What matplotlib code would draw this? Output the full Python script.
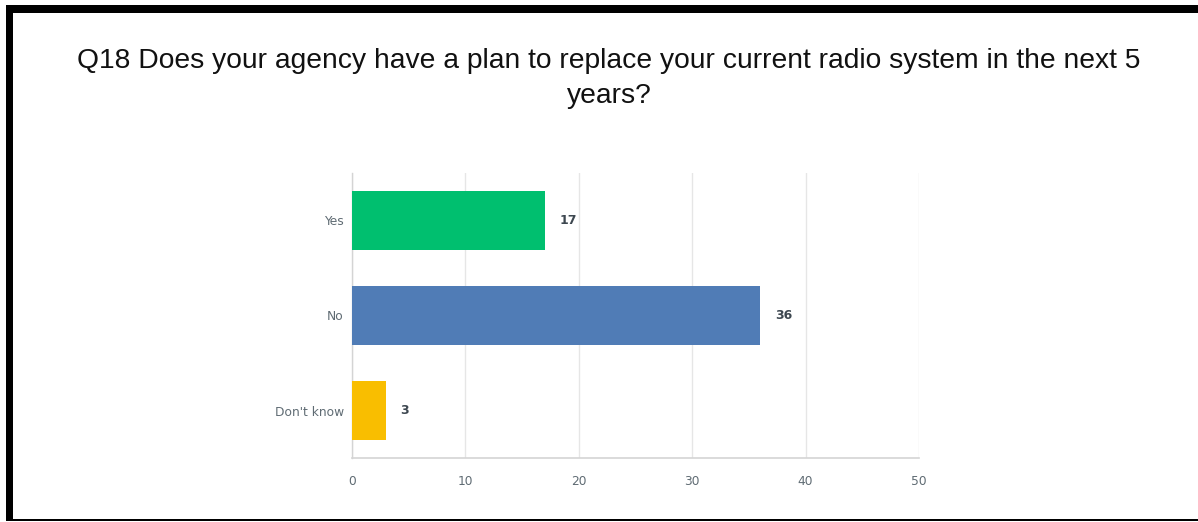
import matplotlib
matplotlib.use("Agg")
import matplotlib.pyplot as plt
from matplotlib.patches import Rectangle

categories = ["Yes", "No", "Don't know"]
counts = [17, 36, 3]
bar_colors = ["#00BF6F", "#507CB6", "#F9BE00"]
x_ticks = [0, 10, 20, 30, 40, 50]
title_lines = ["Q18 Does your agency have a plan to replace your current radio system in the next 5",
               "years?"]

W, H = 1198, 522
fig = plt.figure(figsize=(W / 100, H / 100), dpi=100)
fig.patch.set_facecolor("white")

# outer frame: heavy top and left edges, thin bottom edge
fig.add_artist(Rectangle((6 / W, 1 - 13 / H), 1 - 6 / W, 8 / H, transform=fig.transFigure,
                         facecolor="black", edgecolor="none"))
fig.add_artist(Rectangle((6 / W, 1 - 521 / H), 7 / W, 516 / H, transform=fig.transFigure,
                         facecolor="black", edgecolor="none"))
fig.add_artist(Rectangle((6 / W, 1 - 521 / H), 1 - 6 / W, 2.5 / H, transform=fig.transFigure,
                         facecolor="black", edgecolor="none"))

for i, line in enumerate(title_lines):
    fig.text(609 / W, 1 - (58 + 35 * i) / H, line, ha="center", va="center_baseline",
             fontsize=20.3, family="Liberation Sans", color="#111111")

ax_left, ax_right, ax_top, ax_bot = 352, 919, 173, 458
ax = fig.add_axes([ax_left / W, 1 - ax_bot / H, (ax_right - ax_left) / W, (ax_bot - ax_top) / H])

pos = list(range(len(categories)))
ax.barh(pos, counts, height=0.62, color=bar_colors, zorder=3)
ax.set_ylim(len(categories) - 0.5, -0.5)
ax.set_xlim(x_ticks[0], x_ticks[-1])
ax.set_xticks(x_ticks)
ax.set_xticklabels([str(t) for t in x_ticks])
ax.set_yticks(pos)
ax.set_yticklabels(categories)

for p, v in zip(pos, counts):
    ax.annotate(str(v), (v, p), xytext=(10.5, 0), textcoords="offset points",
                ha="left", va="center", fontsize=9, fontweight="bold",
                color="#3d4750", family="DejaVu Sans", zorder=4)

ax.grid(axis="x", color="#e6e6e6", linewidth=1, zorder=0)
for side in ["top", "right"]:
    ax.spines[side].set_visible(False)
ax.spines["left"].set_color("#d4d4d4")
ax.spines["bottom"].set_color("#d4d4d4")
ax.spines["left"].set_linewidth(1)
ax.spines["bottom"].set_linewidth(1.2)
ax.tick_params(axis="both", length=0, colors="#5f6b73", labelsize=8.8)
ax.tick_params(axis="x", pad=12.5)
ax.tick_params(axis="y", pad=6)
for lbl in ax.get_xticklabels() + ax.get_yticklabels():
    lbl.set_family("DejaVu Sans")

fig.savefig("out.png", dpi=100, facecolor="white")
